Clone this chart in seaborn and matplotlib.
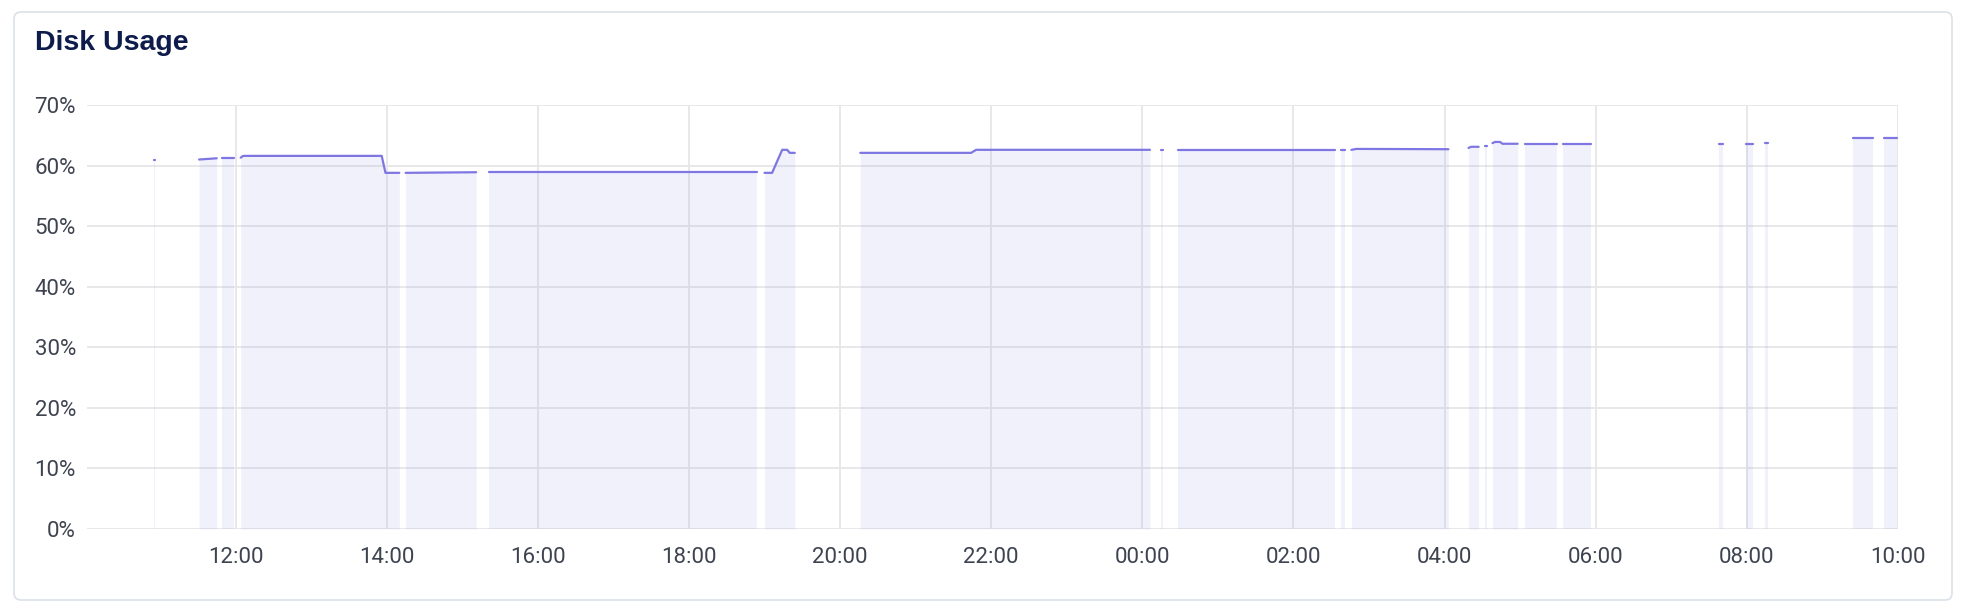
import numpy as np
import pandas as pd

import matplotlib.pyplot as plt
import matplotlib.dates as mdates
from matplotlib.patches import FancyBboxPatch
from matplotlib.transforms import IdentityTransform
import seaborn as sns

# Disk usage samples; a new segment starts after each gap
times = [
    "05-01 10:55", "05-01 10:56",
    "05-01 11:31", "05-01 11:45",
    "05-01 11:49", "05-01 11:59",
    "05-01 12:04", "05-01 12:06", "05-01 13:56", "05-01 13:59", "05-01 14:10",
    "05-01 14:15", "05-01 15:11",
    "05-01 15:21", "05-01 18:54",
    "05-01 19:00", "05-01 19:06", "05-01 19:14", "05-01 19:18", "05-01 19:20", "05-01 19:24",
    "05-01 20:16", "05-01 21:44", "05-01 21:48", "05-02 00:06",
    "05-02 00:15", "05-02 00:16",
    "05-02 00:28", "05-02 02:33",
    "05-02 02:38", "05-02 02:41",
    "05-02 02:46", "05-02 02:50", "05-02 04:03",
    "05-02 04:19", "05-02 04:21", "05-02 04:27",
    "05-02 04:32", "05-02 04:34",
    "05-02 04:38", "05-02 04:40", "05-02 04:44", "05-02 04:46", "05-02 04:58",
    "05-02 05:04", "05-02 05:29",
    "05-02 05:34", "05-02 05:56",
    "05-02 07:38", "05-02 07:41",
    "05-02 07:59", "05-02 08:05",
    "05-02 08:14", "05-02 08:17",
    "05-02 09:24", "05-02 09:40",
    "05-02 09:49", "05-02 09:59",
]
usage = [
    61.0, 61.0,
    61.0, 61.2,
    61.3, 61.3,
    61.3, 61.6, 61.6, 58.8, 58.8,
    58.8, 58.9,
    58.9, 58.9,
    58.8, 58.8, 62.6, 62.6, 62.1, 62.1,
    62.1, 62.1, 62.6, 62.6,
    62.6, 62.6,
    62.6, 62.6,
    62.6, 62.6,
    62.6, 62.75, 62.7,
    62.9, 63.1, 63.1,
    63.2, 63.2,
    63.7, 63.9, 63.9, 63.6, 63.6,
    63.6, 63.6,
    63.6, 63.6,
    63.6, 63.6,
    63.6, 63.6,
    63.8, 63.8,
    64.6, 64.6,
    64.6, 64.6,
]
segment = [
    0, 0,
    1, 1,
    2, 2,
    3, 3, 3, 3, 3,
    4, 4,
    5, 5,
    6, 6, 6, 6, 6, 6,
    7, 7, 7, 7,
    8, 8,
    9, 9,
    10, 10,
    11, 11, 11,
    12, 12, 12,
    13, 13,
    14, 14, 14, 14, 14,
    15, 15,
    16, 16,
    17, 17,
    18, 18,
    19, 19,
    20, 20,
    21, 21,
]
x_start = "05-01 10:02"
x_end = "05-02 10:00"

df = pd.DataFrame({
    "time": pd.to_datetime(["2024-" + t for t in times]),
    "usage": usage,
    "segment": segment,
})

line_color = "#7E76E2"
text_color = "#3E4350"
grid_color = "#E6E6E8"

sns.set_style("white")
plt.rcParams["font.family"] = ["Roboto", "DejaVu Sans"]

W, H = 1968, 610
fig = plt.figure(figsize=(W / 100, H / 100), dpi=100)

# card border, kept behind the axes
card = FancyBboxPatch((14, H - 600), 1938, 588,
                      boxstyle="round,pad=0,rounding_size=7",
                      transform=IdentityTransform(), facecolor="white",
                      edgecolor="#DCE1E9", linewidth=1.2, zorder=-5)
fig.patches.append(card)

ax = fig.add_axes([87 / W, 1 - 529 / H, (1898 - 87) / W, (529 - 105) / H])
ax.set_facecolor("none")
ax.set_zorder(1)
ax.set_axisbelow(True)

# translucent area under each segment, grid shows through it
for seg, part in df.groupby("segment"):
    ax.fill_between(part["time"], 0, part["usage"], color=line_color,
                    alpha=0.1, linewidth=0, zorder=1)

sns.lineplot(data=df, x="time", y="usage", units="segment", estimator=None,
             color=line_color, linewidth=1.6, ax=ax, zorder=3, legend=False)

ax.set_xlim(pd.Timestamp("2024-" + x_start), pd.Timestamp("2024-" + x_end))
ax.set_ylim(0, 70)
ax.set_yticks(np.arange(0, 71, 10))
ax.set_yticklabels([f"{v}%" for v in range(0, 71, 10)])
ax.xaxis.set_major_locator(mdates.HourLocator(byhour=range(0, 24, 2)))
ax.xaxis.set_major_formatter(mdates.DateFormatter("%H:%M"))

ax.grid(True, color=grid_color, linewidth=1.3)
for s in ax.spines.values():
    s.set_visible(False)

ax.tick_params(axis="both", length=0, labelsize=16, labelcolor=text_color)
ax.tick_params(axis="y", pad=8)
ax.tick_params(axis="x", pad=13)
ax.set_xlabel("")
ax.set_ylabel("")

fig.text(35 / W, 1 - 43 / H, "Disk Usage", fontsize=20.5, fontweight="bold",
         color="#0E1C4C", family=["Liberation Sans", "DejaVu Sans"],
         va="center", ha="left")

fig.savefig("out.png", dpi=100)
